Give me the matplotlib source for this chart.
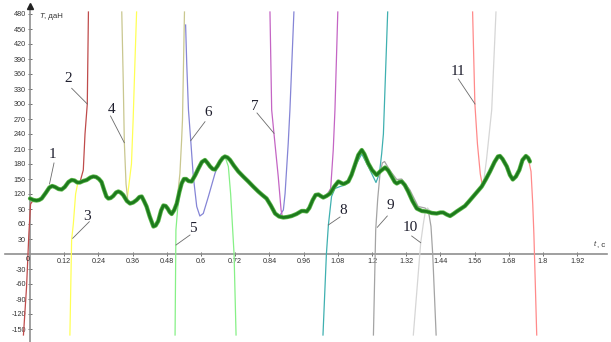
import numpy as np
import matplotlib
matplotlib.use('Agg')
import matplotlib.pyplot as plt

plt.rcParams['font.family'] = ['Liberation Sans', 'DejaVu Sans']

# ---- curve 1: measured tension T (daN) vs time t (s)
time_s = [0.000, 0.012, 0.023, 0.032, 0.041, 0.055, 0.068, 0.078, 0.088, 0.100, 0.111, 0.122,
          0.135, 0.146, 0.156, 0.166, 0.175, 0.187, 0.199, 0.212, 0.222, 0.232, 0.242, 0.251,
          0.260, 0.268, 0.275, 0.283, 0.292, 0.302, 0.310, 0.318, 0.327, 0.340, 0.351, 0.362,
          0.374, 0.384, 0.392, 0.400, 0.409, 0.420, 0.433, 0.441, 0.450, 0.460, 0.468, 0.476,
          0.483, 0.490, 0.497, 0.506, 0.515, 0.524, 0.532, 0.540, 0.548, 0.556, 0.567, 0.580,
          0.591, 0.603, 0.614, 0.623, 0.632, 0.641, 0.649, 0.658, 0.667, 0.676, 0.684, 0.693,
          0.702, 0.715, 0.731, 0.748, 0.766, 0.783, 0.801, 0.815, 0.830, 0.845, 0.860, 0.874,
          0.889, 0.903, 0.918, 0.935, 0.953, 0.962, 0.971, 0.980, 0.992, 1.002, 1.012, 1.020,
          1.029, 1.040, 1.053, 1.068, 1.082, 1.092, 1.099, 1.108, 1.117, 1.128, 1.140, 1.152,
          1.164, 1.173, 1.187, 1.200, 1.216, 1.230, 1.246, 1.257, 1.269, 1.280, 1.287, 1.296,
          1.304, 1.315, 1.327, 1.342, 1.357, 1.375, 1.392, 1.410, 1.427, 1.440, 1.450, 1.462,
          1.474, 1.485, 1.497, 1.510, 1.526, 1.540, 1.555, 1.570, 1.585, 1.600, 1.614, 1.630,
          1.642, 1.649, 1.658, 1.673, 1.684, 1.694, 1.705, 1.717, 1.728, 1.740, 1.748, 1.754]
tension = [111, 108, 107, 108, 111, 122, 133, 136, 134, 130, 129, 134,
           144, 148, 147, 143, 143, 146, 148, 153, 155, 154, 150, 144,
           128, 115, 111, 112, 116, 123, 125, 123, 118, 106, 101, 103,
           108, 114, 115, 106, 95, 75, 55, 57, 66, 87, 97, 96,
           91, 84, 80, 88, 101, 124, 141, 150, 150, 146, 145, 158,
           171, 184, 188, 182, 175, 170, 169, 176, 185, 192, 195, 193,
           188, 177, 165, 155, 145, 135, 125, 118, 111, 97, 81, 75,
           73, 74, 76, 80, 86, 86, 85, 92, 108, 118, 119, 116,
           113, 116, 121, 135, 145, 142, 140, 142, 145, 158, 178, 198,
           208, 200, 181, 168, 158, 166, 173, 167, 155, 144, 141, 144,
           145, 138, 125, 106, 91, 86, 85, 82, 81, 83, 83, 79,
           76, 80, 85, 90, 96, 105, 115, 125, 135, 150, 165, 184,
           195, 196, 190, 175, 158, 149, 155, 168, 188, 196, 192, 185]

# ---- approximating curves 2..11: branch points + span where they follow curve 1
fit2_left_t = [-0.023, -0.012, -0.004, 0.002]
fit2_left_T = [-162, -65, 40, 100]
fit2_span = (0.005, 0.176)
fit2_right_t = [0.187, 0.193, 0.201, 0.205]
fit2_right_T = [168, 240, 300, 484]

fit3_left_t = [0.140, 0.146, 0.152, 0.160, 0.168]
fit3_left_T = [-162, 28, 60, 120, 143]
fit3_span = (0.174, 0.350)
fit3_right_t = [0.356, 0.362, 0.368, 0.374]
fit3_right_T = [180, 270, 380, 484]

fit4_left_t = [0.322, 0.327, 0.331, 0.337, 0.343]
fit4_left_T = [484, 350, 223, 140, 108]
fit4_span = (0.348, 0.520)
fit4_right_t = [0.526, 0.532, 0.535, 0.542]
fit4_right_T = [161, 228, 268, 484]

fit5_left_t = [0.509, 0.512, 0.518, 0.523]
fit5_left_T = [-162, 48, 90, 110]
fit5_span = (0.528, 0.690)
fit5_right_t = [0.696, 0.704, 0.710, 0.716, 0.723]
fit5_right_T = [175, 120, 60, 0, -162]

fit6_left_t = [0.546, 0.550, 0.556, 0.564, 0.573, 0.585, 0.596, 0.608, 0.626, 0.649, 0.660]
fit6_left_T = [458, 380, 288, 227, 155, 95, 76, 81, 115, 161, 178]
fit6_span = (0.664, 0.884)
fit6_right_t = [0.889, 0.895, 0.906, 0.912, 0.926]
fit6_right_T = [88, 121, 221, 288, 484]

fit7_left_t = [0.842, 0.848, 0.856, 0.871, 0.881, 0.886]
fit7_left_T = [484, 288, 241, 155, 88, 73]
fit7_span = (0.888, 1.050)
fit7_right_t = [1.055, 1.064, 1.070, 1.080]
fit7_right_T = [131, 208, 288, 484]

fit8_t = [1.028, 1.040, 1.047, 1.058, 1.070, 1.088, 1.105, 1.123, 1.146, 1.164, 1.187,
          1.214, 1.226, 1.234, 1.240, 1.255]
fit8_T = [-162, 0, 58, 115, 131, 135, 138, 148, 181, 200, 175,
          143, 161, 201, 240, 484]

fit9_t = [1.205, 1.213, 1.220, 1.228, 1.236, 1.244, 1.263, 1.287, 1.304, 1.333, 1.362,
          1.386, 1.398, 1.407, 1.413, 1.425]
fit9_T = [-162, 48, 110, 160, 182, 185, 167, 149, 150, 128, 95,
          92, 86, 55, 0, -162]

fit10_left_t = [1.345, 1.371, 1.380, 1.388, 1.395]
fit10_left_T = [-162, 23, 60, 88, 92]
fit10_span = (1.400, 1.586)
fit10_right_t = [1.592, 1.602, 1.620, 1.635]
fit10_right_T = [145, 190, 288, 484]

fit11_left_t = [1.553, 1.561, 1.570, 1.580, 1.587]
fit11_left_T = [484, 300, 220, 160, 138]
fit11_span = (1.590, 1.752)
fit11_right_t = [1.758, 1.764, 1.768, 1.773, 1.778]
fit11_right_T = [165, 100, 40, -60, -162]

x_ticks = [0.12, 0.24, 0.36, 0.48, 0.6, 0.72, 0.84, 0.96, 1.08, 1.2, 1.32, 1.44, 1.56, 1.68, 1.8, 1.92]
x_tick_labels = ['0.12', '0.24', '0.36', '0.48', '0.6', '0.72', '0.84', '0.96', '1.08', '1.2',
                 '1.32', '1.44', '1.56', '1.68', '1.8', '1.92']
y_ticks = [-150, -120, -90, -60, -30, 30, 60, 90, 120, 150, 180, 210, 240, 270, 300, 330,
           360, 390, 420, 450, 480]

curve_labels = ['1', '2', '3', '4', '5', '6', '7', '8', '9', '10', '11']

# ---------------------------------------------------------------- figure
W, H = 611, 342
fig = plt.figure(figsize=(W / 100, H / 100), dpi=100)
ax = fig.add_axes([0, 0, 1, 1])
X0, SX = 30.0, 285.0     # pixel of t=0, pixels per second
Y0, SY = 254.0, 0.5      # pixel of T=0, pixels per daN
ax.set_xlim(-X0 / SX, (W - X0) / SX)
ax.set_ylim((Y0 - H) / SY, Y0 / SY)


def pt(px):
    return (px - X0) / SX


def pv(py):
    return (Y0 - py) / SY


gt = np.array(time_s)
gT = np.array(tension)


def follow(lt, lT, span, rt, rT):
    m = (gt >= span[0]) & (gt <= span[1])
    return (np.concatenate([lt, gt[m], rt]), np.concatenate([lT, gT[m], rT]))


curves = [
    (follow(fit2_left_t, fit2_left_T, fit2_span, fit2_right_t, fit2_right_T), '#bf4b4b'),
    (follow(fit3_left_t, fit3_left_T, fit3_span, fit3_right_t, fit3_right_T), '#ffff55'),
    (follow(fit4_left_t, fit4_left_T, fit4_span, fit4_right_t, fit4_right_T), '#c9c78f'),
    (follow(fit5_left_t, fit5_left_T, fit5_span, fit5_right_t, fit5_right_T), '#86f086'),
    (follow(fit6_left_t, fit6_left_T, fit6_span, fit6_right_t, fit6_right_T), '#8585d6'),
    (follow(fit7_left_t, fit7_left_T, fit7_span, fit7_right_t, fit7_right_T), '#c465c4'),
    ((np.array(fit8_t), np.array(fit8_T)), '#3fb0b0'),
    ((np.array(fit9_t), np.array(fit9_T)), '#a4a4a4'),
    (follow(fit10_left_t, fit10_left_T, fit10_span, fit10_right_t, fit10_right_T), '#d6d6d6'),
    (follow(fit11_left_t, fit11_left_T, fit11_span, fit11_right_t, fit11_right_T), '#ff8a8a'),
]
for (ct, cT), col in curves:
    ax.plot(ct, cT, color=col, lw=0.9, zorder=3, solid_joinstyle='round')

ax.plot(gt, gT, color='#5cb84a', lw=3.1, zorder=4, solid_capstyle='round', solid_joinstyle='round')
ax.plot(gt, gT, color='#1d7a1d', lw=2.0, zorder=5, solid_capstyle='round', solid_joinstyle='round')

# ---- axes through origin
for s in ['top', 'right']:
    ax.spines[s].set_visible(False)
ax.spines['left'].set_position(('data', 0))
ax.spines['bottom'].set_position(('data', 0))
ax.spines['bottom'].set_bounds(pt(5), pt(607))
ax.spines['left'].set_bounds(pv(H), pv(7))
for s in ['left', 'bottom']:
    ax.spines[s].set_color('#8f8f8f')
    ax.spines[s].set_linewidth(1.2)
    ax.spines[s].set_zorder(2)
ax.set_xticks(x_ticks)
ax.set_xticklabels(x_tick_labels)
ax.set_yticks(y_ticks)
ax.set_yticklabels([str(v) for v in y_ticks])
ax.tick_params(axis='both', direction='inout', length=3.5, width=0.6, color='#555555',
               labelsize=5.2, labelcolor='#333333', pad=1.2)
ax.text(pt(29.5), pv(256), '0', ha='right', va='top', fontsize=5.2, color='#333333')
ax.plot([0], [pv(6)], marker='^', color='#222222', markersize=4, clip_on=False, zorder=6)

# axis titles
ax.text(pt(39), pv(16), 'T', fontstyle='italic', fontsize=5.6, ha='left', va='center', color='#333333')
ax.text(pt(44), pv(16), ', даН', fontsize=5.6, ha='left', va='center', color='#333333')
ax.text(pt(594), pv(245), 't', fontstyle='italic', fontsize=5.6, ha='left', va='center', color='#333333')
ax.text(pt(597), pv(245), ', c', fontsize=5.6, ha='left', va='center', color='#333333')

# ---- curve number labels with leader lines (pixel positions)
label_px = [(52.3, 154.7), (68.3, 79), (87.3, 216), (111.7, 109.5), (193.3, 228.3), (208.3, 112.5),
            (255, 106), (343.3, 210.8), (390, 205.8), (410, 227.5), (458.3, 71.7)]
leader_px = [((54, 163), (49.5, 184)), ((71.7, 88.3), (87.3, 104)), ((89.3, 221.7), (72.7, 238.3)),
             ((110.5, 116), (124.3, 142.7)), ((190, 235), (176, 245)), ((205, 121.7), (190.7, 140.7)),
             ((257, 113), (274, 133.3)), ((340, 217), (328.3, 225)), ((387.3, 216), (377.3, 227.3)),
             ((411.7, 236), (420.7, 242.7)), ((458.3, 79), (475, 104))]
for lab, (lx, ly), ((ax0, ay0), (ax1, ay1)) in zip(curve_labels, label_px, leader_px):
    ax.text(pt(lx), pv(ly), lab, fontsize=11, family='Liberation Serif', color='#1f1f2e',
            ha='center', va='center', zorder=7)
    ax.plot([pt(ax0), pt(ax1)], [pv(ay0), pv(ay1)], color='#6a6a6a', lw=0.6, zorder=6)

fig.savefig('out.png', dpi=100)
